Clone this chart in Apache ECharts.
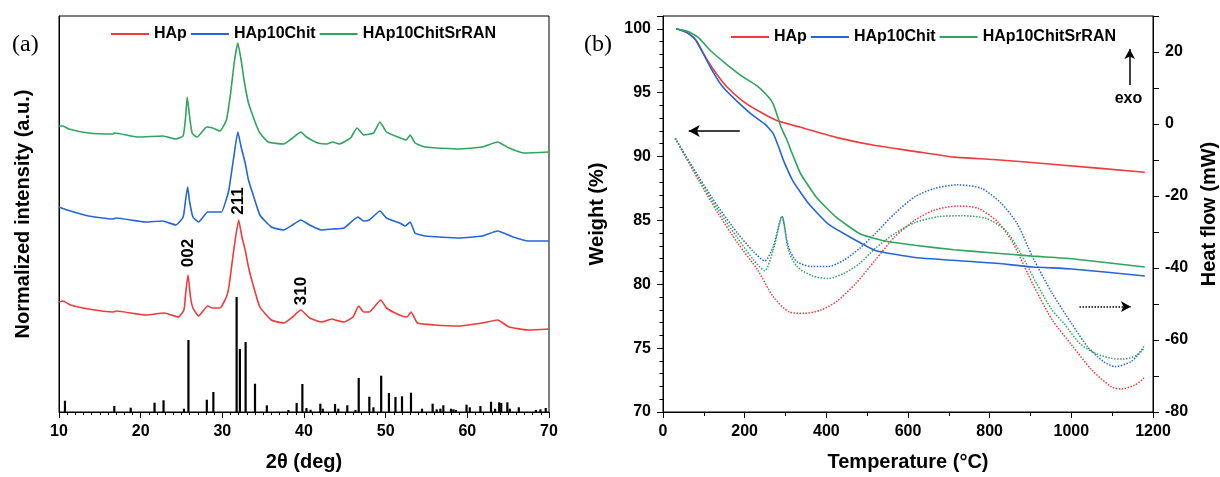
<!DOCTYPE html>
<html>
<head>
<meta charset="utf-8">
<script src="https://cdn.jsdelivr.net/npm/echarts@6/dist/echarts.min.js"></script>
<style>html,body{margin:0;padding:0;background:#fff}#c{width:1220px;height:477px}</style>
</head>
<body>
<div id="c"></div>
<script>
// ---------- Panel (a): XRD ----------
const xrdHAp = [[10,110],[10.5,111],[11.4,107],[13.6,103],[16.6,100],[17.0,101],[20.6,97],[22.9,99],[24.6,95],[25.3,102],[25.5,118],[25.8,137],[26.1,115],[26.4,104],[27.1,96],[28.2,106],[28.8,104],[29.7,104],[30.5,115],[30.8,125],[31.4,162],[32.0,192],[32.4,175],[32.8,162],[33.2,145],[33.7,129],[34.6,105],[36.0,92],[37.5,89],[38.6,95],[39.6,102],[40.7,94],[42.1,90],[43.5,93],[43.8,92],[44.9,90],[46.0,95],[46.7,106],[47.3,100],[48.0,100],[49.4,112],[50.1,104],[51.7,97],[52.6,95],[53.1,100],[53.9,89],[56.0,87],[59.0,86],[61.8,89],[63.7,92],[65.1,85],[67.5,82],[70,83]];
const xrdHAp10Chit = [[10,205],[11,202],[13.6,196],[16.6,193],[17.0,194],[20.6,190],[22.7,191],[24.3,187],[25.2,195],[25.5,212],[25.75,225],[26.0,210],[26.4,195],[27.1,190],[28.2,200],[29.2,200],[29.9,200],[30.5,213],[30.8,222],[31.4,255],[31.9,280],[32.3,265],[32.8,249],[33.2,232],[33.7,219],[34.6,197],[36.0,185],[37.5,182],[38.6,187],[39.6,192],[40.7,187],[42.1,182],[43.5,183],[44.9,184],[46.6,195],[47.3,191],[48.0,192],[49.3,201],[50.1,194],[51.7,189],[52.4,186],[53.0,190],[53.6,179],[54.8,176],[59.0,174],[61.8,176],[63.7,181],[65.6,175],[67.5,171],[70,171]];
const xrdSrRAN = [[10,286],[10.5,286],[11.2,283],[13.6,279],[16.6,278],[16.8,279],[19.7,275],[22.7,276],[24.3,273],[25.2,276],[25.5,295],[25.7,315],[26.0,295],[26.3,279],[26.9,275],[28.1,285],[28.8,284],[29.7,281],[30.5,292],[31.0,318],[31.5,352],[31.9,369],[32.3,352],[32.7,330],[33.2,309],[33.7,297],[34.2,286],[34.6,279],[35.6,270],[37.5,268],[38.6,274],[39.6,280],[40.3,275],[41.7,269],[42.8,268],[43.5,270],[44.3,268],[45.7,274],[46.5,284],[47.3,277],[48.5,279],[49.3,290],[50.1,280],[51.5,275],[52.5,272],[53.0,277],[53.6,269],[54.8,265],[59.0,263],[61.8,265],[63.7,270],[65.1,264],[67.0,259],[70,260]];
const refSticks = [[10.73,11.3],[16.77,6],[18.78,4.3],[21.7,9.3],[22.8,11.7],[25.3,3.3],[25.85,72],[28.1,12.3],[28.9,20],[31.75,115],[32.15,63],[32.85,70],[34.0,28.3],[35.45,6.7],[38.1,2],[39.1,9],[39.8,28],[40.3,4],[40.8,2.3],[42.0,8.3],[42.3,3.3],[43.8,8],[44.2,3.3],[45.3,6.7],[46.3,2],[46.7,34],[48.0,15.3],[48.5,4.7],[49.45,36.3],[50.4,19],[51.2,15],[52.0,15.7],[53.1,19.3],[54.45,3.3],[55.75,8.3],[56.25,2.7],[56.7,3.3],[57.06,6.7],[58.0,3.3],[58.3,2.7],[58.6,2],[59.9,7.3],[60.3,4.7],[61.6,6],[62.9,10.3],[63.4,3.3],[63.9,9.7],[64.15,9],[64.9,9.7],[65.2,3.3],[66.3,4.7],[68.4,2],[68.95,2.7],[69.6,4]];
const peakLabels = [{name:'002',coord:[25.8,159]},{name:'211',coord:[31.9,211]},{name:'310',coord:[39.7,121]}];

// ---------- Panel (b): TGA (weight %) ----------
const tgaHAp = [[32,100],[63,99.64],[82,99.06],[102,97.9],[126,96.7],[155,95.5],[193,94.4],[232,93.6],[280,92.8],[347,92.2],[424,91.5],[520,90.86],[617,90.4],[713,89.95],[809,89.77],[953,89.4],[1180,88.77]];
const tgaHAp10Chit = [[32,100],[54,99.8],[78,99.2],[97,98.15],[121,96.7],[145,95.5],[179,94.4],[217,93.3],[251,92.5],[270,91.8],[285,90.6],[295,89.7],[318,88.1],[357,86.3],[405,84.7],[463,83.6],[520,82.65],[617,82.1],[809,81.66],[905,81.35],[1001,81.2],[1180,80.65]];
const tgaSrRAN = [[32,100],[63,99.77],[87,99.3],[116,98.3],[155,97.24],[193,96.3],[232,95.5],[260,94.6],[270,94.1],[280,93.2],[289,92.3],[304,91.25],[318,90.1],[337,88.65],[376,86.8],[424,85.25],[482,83.96],[540,83.4],[617,83.05],[713,82.7],[809,82.45],[905,82.2],[1001,82.0],[1180,81.35]];
// ---------- Panel (b): DSC (heat flow mW) ----------
const dscHAp = [[30,-4],[87,-15.6],[135,-24.8],[183,-33.1],[232,-40.6],[270,-48],[309,-52.2],[347,-52.6],[386,-51.7],[424,-49.4],[472,-44.3],[520,-37.8],[568,-31.3],[617,-26.7],[665,-23.9],[722,-22.8],[771,-23.4],[819,-27.1],[857,-33.1],[905,-44.3],[953,-54.4],[1001,-61.4],[1050,-68.3],[1098,-73],[1122,-73.6],[1156,-72.5],[1178,-70.6]];
const dscHAp10Chit = [[30,-4],[87,-14.6],[135,-23],[183,-30.4],[222,-35.5],[249,-38],[270,-34.1],[291,-25.7],[307,-34.1],[328,-38.25],[366,-39.6],[405,-39.6],[443,-37.8],[482,-34.5],[520,-30.4],[568,-24.8],[617,-20.2],[665,-17.9],[722,-16.9],[780,-17.9],[828,-22],[867,-27.6],[905,-36.9],[953,-47],[1001,-55.5],[1040,-61.9],[1079,-66],[1107,-67.4],[1146,-66],[1178,-62.3]];
const dscSrRAN = [[30,-4],[87,-15.1],[135,-23.9],[183,-31.75],[222,-37.8],[249,-40.75],[270,-35],[292,-25.75],[307,-35],[328,-39.6],[366,-42.2],[405,-42.9],[443,-41.5],[482,-38.7],[520,-34.5],[568,-30.4],[617,-27.4],[674,-25.75],[732,-25.5],[790,-26.2],[838,-29.4],[876,-35.9],[915,-44.3],[953,-51.7],[982,-55.4],[1021,-61],[1059,-63.7],[1098,-65.1],[1127,-65.3],[1160,-64.2],[1180,-61.4]];

const names = ['HAp','HAp10Chit','HAp10ChitSrRAN'];
const colors = ['#f03a3c','#2466d8','#2ea55c'];

const FONT = 'Liberation Sans, Arial, sans-serif';
const chart = echarts.init(document.getElementById('c'), null, {renderer:'canvas'});

function line(name, data, color, xi, yi, dotted, extra){
  return Object.assign({
    type:'line', name, data, xAxisIndex:xi, yAxisIndex:yi, showSymbol:false, symbol:'none',
    smooth: dotted ? 0.25 : 0.15, animation:false, z: dotted?2:3,
    lineStyle:{color, width: dotted?1.5:1.6, type: dotted?'dotted':'solid'},
    itemStyle:{color}
  }, extra||{});
}

const labelCommon = {fontFamily:FONT, fontWeight:'bold', fontSize:16, color:'#000', formatter: v => String(v)};

const option = {
  backgroundColor:'#fff',
  animation:false,
  textStyle:{fontFamily:FONT},
  grid:[
    {left:59, right:671, top:16, bottom:65, show:true, borderColor:'#000', borderWidth:1, backgroundColor:'transparent'},
    {left:663, right:64, top:16, bottom:65, show:true, borderColor:'#000', borderWidth:1, backgroundColor:'transparent'}
  ],
  legend:[
    {data:names, left:106, top:21, icon:'rect', itemWidth:38, itemHeight:2, itemGap:4,
     textStyle:{fontFamily:FONT, fontWeight:'bold', fontSize:16, color:'#000'}},
    {data:names, left:726, top:24, icon:'rect', itemWidth:38, itemHeight:2, itemGap:4,
     textStyle:{fontFamily:FONT, fontWeight:'bold', fontSize:16, color:'#000'}}
  ],
  xAxis:[
    {gridIndex:0, type:'value', min:10, max:70, interval:10,
     name:'2θ (deg)', nameLocation:'middle', nameGap:40,
     nameTextStyle:{fontFamily:FONT, fontWeight:'bold', fontSize:20, color:'#000'},
     axisLine:{onZero:false, lineStyle:{color:'#000', width:1}},
     axisTick:{show:true, inside:false, length:6, lineStyle:{color:'#000'}},
     minorTick:{show:true, splitNumber:10, length:3, lineStyle:{color:'#000'}},
     axisLabel:Object.assign({margin:12}, labelCommon),
     splitLine:{show:false}},
    {gridIndex:1, type:'value', min:0, max:1200, interval:200,
     name:'Temperature (°C)', nameLocation:'middle', nameGap:40,
     nameTextStyle:{fontFamily:FONT, fontWeight:'bold', fontSize:20, color:'#000'},
     axisLine:{onZero:false, lineStyle:{color:'#000', width:1}},
     axisTick:{show:true, inside:false, length:6, lineStyle:{color:'#000'}},
     minorTick:{show:true, splitNumber:2, length:4, lineStyle:{color:'#000'}},
     axisLabel:Object.assign({margin:12}, labelCommon),
     splitLine:{show:false}}
  ],
  yAxis:[
    {gridIndex:0, type:'value', min:0, max:396,
     name:'Normalized intensity (a.u.)', nameLocation:'middle', nameGap:26, nameRotate:90,
     nameTextStyle:{fontFamily:FONT, fontWeight:'bold', fontSize:20, color:'#000'},
     axisLine:{show:true, onZero:false, lineStyle:{color:'#000'}}, axisTick:{show:false}, axisLabel:{show:false}, splitLine:{show:false}},
    {gridIndex:1, type:'value', min:70, max:101, interval:5, position:'left',
     name:'Weight (%)', nameLocation:'middle', nameGap:56, nameRotate:90,
     nameTextStyle:{fontFamily:FONT, fontWeight:'bold', fontSize:20, color:'#000'},
     axisLine:{show:true, onZero:false, lineStyle:{color:'#000'}},
     axisTick:{show:true, inside:false, length:6, lineStyle:{color:'#000'}},
     minorTick:{show:true, splitNumber:5, length:3.5, lineStyle:{color:'#000'}},
     axisLabel:Object.assign({margin:12, showMaxLabel:false}, labelCommon),
     splitLine:{show:false}},
    {gridIndex:1, type:'value', min:-80, max:30, interval:20, position:'right',
     name:'Heat flow (mW)', nameLocation:'middle', nameGap:46, nameRotate:90,
     nameTextStyle:{fontFamily:FONT, fontWeight:'bold', fontSize:20, color:'#000'},
     axisLine:{show:true, onZero:false, lineStyle:{color:'#000'}},
     axisTick:{show:true, inside:false, length:6, lineStyle:{color:'#000'}},
     minorTick:{show:true, splitNumber:2, length:6, lineStyle:{color:'#000'}},
     axisLabel:Object.assign({margin:12, showMaxLabel:false}, labelCommon),
     splitLine:{show:false}}
  ],
  graphic:[
    {type:'text', left:12, top:33, style:{text:'(a)', fontFamily:'Liberation Serif, Times New Roman, serif', fontSize:24, fill:'#000'}},
    {type:'text', left:584, top:33, style:{text:'(b)', fontFamily:'Liberation Serif, Times New Roman, serif', fontSize:24, fill:'#000'}}
  ],
  series:[
    {type:'bar', name:'ref', data:refSticks, xAxisIndex:0, yAxisIndex:0, barWidth:2.2,
     itemStyle:{color:'#000'}, animation:false, silent:true},
    line(names[0], xrdHAp, colors[0], 0, 0, false, {
      markPoint:{symbol:'circle', symbolSize:0, silent:true, animation:false,
        label:{show:true, rotate:90, formatter:'{b}', fontFamily:FONT, fontWeight:'bold', fontSize:17, color:'#000', position:'inside'},
        data:peakLabels}
    }),
    line(names[1], xrdHAp10Chit, colors[1], 0, 0, false),
    line(names[2], xrdSrRAN, colors[2], 0, 0, false),
    line(names[0], tgaHAp, colors[0], 1, 1, false, {
      markLine:{silent:true, animation:false, symbol:['none','arrow'], symbolSize:[9,11],
        lineStyle:{color:'#000', width:1.5, type:'solid'}, label:{show:false},
        data:[[{coord:[188,92.0]},{coord:[63,92.0]}]]}
    }),
    line(names[1], tgaHAp10Chit, colors[1], 1, 1, false),
    line(names[2], tgaSrRAN, colors[2], 1, 1, false),
    line(names[0], dscHAp, colors[0], 1, 2, true, {
      markLine:{silent:true, animation:false, symbol:['none','arrow'], symbolSize:[8,10],
        label:{show:false},
        data:[
          [{coord:[1020,-50.75], lineStyle:{color:'#000', width:1.5, type:'dotted'}},{coord:[1146,-50.75]}],
          [{coord:[1143,10.8], lineStyle:{color:'#000', width:1.5, type:'solid'}},{coord:[1143,20.8]}]
        ]},
      markPoint:{symbol:'circle', symbolSize:0, silent:true, animation:false,
        label:{show:true, formatter:'exo', position:'inside', fontFamily:FONT, fontWeight:'bold', fontSize:16, color:'#000'},
        data:[{name:'exo', coord:[1140,7.0]}]}
    }),
    line(names[1], dscHAp10Chit, colors[1], 1, 2, true),
    line(names[2], dscSrRAN, colors[2], 1, 2, true)
  ]
};
chart.setOption(option);
</script>
</body>
</html>
